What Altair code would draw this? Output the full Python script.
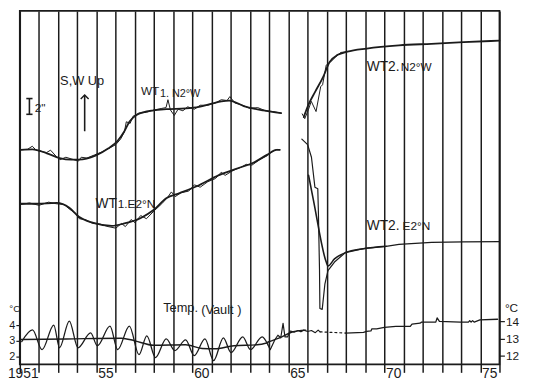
import altair as alt
import pandas as pd

# ---------------- data ----------------
# Temperature (vault), left scale, 1951-1964
temp_l_years = [1951.1, 1951.66, 1952.16, 1952.77, 1953.07, 1953.58, 1954.03, 1954.69, 1955.04, 1955.7,
                1956.1, 1956.71, 1957.21, 1957.62, 1958.07, 1958.63, 1959.08, 1959.64, 1960.09, 1960.65,
                1961.1, 1961.61, 1962.01, 1962.62, 1963.02, 1963.63, 1963.93]
temp_l_vals = [2.95, 3.69, 2.44, 4.0, 2.56, 4.25, 2.56, 3.5, 2.69, 3.94,
               2.44, 3.94, 2.12, 3.31, 1.94, 3.12, 2.38, 3.06, 2.06, 3.12,
               1.75, 3.19, 2.25, 3.25, 2.44, 3.25, 2.75]
temp_l_smooth_years = [1951.05, 1953.42, 1956.3, 1957.0, 1957.97, 1959.64, 1960.5, 1961.15, 1962.16, 1963.37, 1963.93]
temp_l_smooth_vals = [3.08, 3.12, 3.17, 3.0, 2.72, 2.75, 2.52, 2.5, 2.69, 2.75, 2.88]

# Temperature (vault), right scale, 1964-1976
temp_r_years_a = [1963.93, 1964.05, 1964.3, 1964.45, 1964.6, 1964.72, 1964.82, 1964.95, 1965.1, 1965.3,
                  1965.5, 1965.65, 1965.8, 1966.0, 1966.2, 1966.4, 1966.55, 1966.65]
temp_r_vals_a = [12.64, 12.35, 12.95, 13.2, 13.05, 13.9, 13.1, 13.1, 13.45, 13.38,
                 13.48, 13.4, 13.5, 13.42, 13.48, 13.35, 13.5, 13.4]
temp_r_gap_years = [1966.65, 1967.98]
temp_r_gap_vals = [13.4, 13.33]
temp_r_years_b = [1967.98, 1968.91, 1969.08, 1969.3, 1969.35, 1969.6, 1970.0, 1970.6, 1971.35, 1971.44,
                  1971.86, 1971.94, 1972.68, 1972.75, 1972.87, 1973.96, 1974.38, 1974.45, 1974.52, 1974.6,
                  1974.68, 1974.75, 1974.98, 1975.9]
temp_r_vals_b = [13.33, 13.37, 13.43, 13.45, 13.58, 13.58, 13.66, 13.72, 13.72, 13.86,
                 13.91, 13.97, 13.97, 14.22, 14.01, 13.97, 13.97, 14.06, 13.97, 14.06,
                 13.97, 14.0, 14.1, 14.14]
temp_r_smooth_years = [1963.93, 1964.54, 1965.19, 1965.9]
temp_r_smooth_vals = [12.8, 13.04, 13.39, 13.5]

# Tilt (arcsec, arbitrary offsets)
wt1n_smooth_years = [1951.05, 1951.66, 1952.41, 1953.07, 1953.68, 1954.08, 1954.94, 1955.6, 1956.1, 1956.45,
                     1956.71, 1957.11, 1957.97, 1958.63, 1959.64, 1960.34, 1961.0, 1961.51, 1961.91, 1962.67,
                     1963.68, 1964.62]
wt1n_smooth_vals = [27.25, 27.3, 26.8, 26.2, 26.0, 26.0, 26.5, 27.4, 28.4, 29.6,
                    30.8, 31.7, 32.25, 32.4, 32.5, 32.7, 33.1, 33.4, 33.5, 32.8,
                    32.25, 31.9]
wt1n_raw_years = [1951.05, 1951.4, 1951.65, 1951.85, 1952.2, 1952.4, 1952.6, 1952.9, 1953.1, 1953.4,
                  1953.8, 1954.05, 1954.2, 1954.5, 1954.9, 1955.3, 1955.7, 1956.0, 1956.25, 1956.45,
                  1956.55, 1956.75, 1956.9, 1957.2, 1957.6, 1958.0, 1958.4, 1958.62, 1958.72, 1958.85,
                  1959.05, 1959.25, 1959.5, 1959.75, 1960.1, 1960.4, 1960.8, 1961.2, 1961.5, 1961.8,
                  1961.95, 1962.2, 1962.6, 1963.0, 1963.4, 1963.8, 1964.2, 1964.62]
wt1n_raw_vals = [27.25, 27.3, 27.7, 27.2, 27.0, 26.9, 27.2, 26.4, 26.0, 26.3,
                 26.0, 25.8, 26.3, 26.2, 26.6, 27.0, 27.5, 27.9, 28.6, 29.5,
                 30.8, 30.6, 31.5, 31.9, 32.0, 32.3, 32.5, 32.6, 33.6, 32.3,
                 31.6, 32.4, 32.2, 32.7, 32.4, 32.9, 32.9, 33.2, 33.6, 33.5,
                 34.0, 33.2, 32.9, 32.5, 32.6, 32.2, 32.1, 31.9]

wt1e_smooth_years = [1951.05, 1951.91, 1952.92, 1953.58, 1954.08, 1954.79, 1955.8, 1956.45, 1957.31, 1957.97,
                     1958.63, 1959.33, 1960.34, 1961.35, 1962.36, 1963.17, 1963.88, 1964.38, 1964.55]
wt1e_smooth_vals = [20.4, 20.4, 20.5, 19.9, 18.75, 18.0, 17.6, 17.9, 18.6, 19.6,
                    21.1, 21.75, 22.75, 24.0, 24.9, 25.6, 26.6, 27.25, 27.25]
wt1e_raw_years = [1951.05, 1951.5, 1952.0, 1952.5, 1952.9, 1953.3, 1953.6, 1953.9, 1954.1, 1954.4,
                  1954.8, 1955.2, 1955.6, 1956.0, 1956.3, 1956.5, 1956.8, 1957.0, 1957.3, 1957.6,
                  1958.0, 1958.4, 1958.7, 1958.9, 1959.1, 1959.4, 1959.8, 1960.1, 1960.4, 1960.8,
                  1961.2, 1961.5, 1961.7, 1962.1, 1962.5, 1962.8, 1963.1, 1963.5, 1963.9, 1964.2,
                  1964.4, 1964.55]
wt1e_raw_vals = [20.3, 20.5, 20.2, 20.6, 20.4, 20.3, 19.7, 19.2, 18.5, 18.4,
                 17.9, 17.8, 17.5, 17.3, 17.9, 17.5, 18.4, 18.0, 18.9, 18.5,
                 19.5, 20.4, 21.2, 21.9, 21.3, 21.8, 22.0, 22.8, 22.5, 23.2,
                 23.6, 24.4, 24.0, 24.6, 25.0, 25.4, 25.3, 26.0, 26.5, 27.1,
                 27.3, 27.25]

wt2n_smooth_years = [1965.8, 1966.05, 1966.39, 1966.81, 1967.15, 1967.57, 1968.07, 1969.08, 1970.76, 1972.45, 1974.13, 1976.0]
wt2n_smooth_vals = [31.4, 33.0, 34.6, 36.5, 38.4, 39.3, 39.7, 40.1, 40.5, 40.7, 40.9, 41.1]
wt2n_raw_years = [1965.72, 1965.85, 1966.05, 1966.19, 1966.44, 1966.68, 1966.78, 1966.97, 1967.2, 1967.45, 1967.73, 1968.07]
wt2n_raw_vals = [31.8, 31.2, 32.4, 33.4, 32.1, 35.25, 35.5, 38.0, 38.4, 39.0, 39.6, 39.7]

wt2e_raw_years = [1965.70, 1966.0, 1966.2, 1966.38, 1966.53, 1966.56, 1966.62, 1966.64, 1966.76, 1966.9,
                  1967.06, 1967.4, 1967.97, 1968.91, 1970.09, 1970.76, 1972.46, 1974.13, 1976.0]
wt2e_raw_vals = [28.6, 27.9, 26.3, 22.5, 22.3, 19.5, 12.0, 7.1, 7.0, 10.2,
                 11.9, 13.0, 14.2, 14.7, 15.0, 15.25, 15.5, 15.55, 15.6]
wt2e_smooth_years = [1966.05, 1966.3, 1966.97, 1967.06, 1967.4, 1967.98, 1968.91, 1970.09]
wt2e_smooth_vals = [24.0, 20.9, 13.0, 12.5, 13.4, 14.2, 14.7, 15.0]

# Annotations (positions in year / tilt units)
label_text = ["S,W Up", '2"', "WT", "1. N2°W", "WT", "1.E2°N", "WT2.", "N2°W", "WT2.", "E2°N", "Temp.", "(Vault )"]
label_year = [1953.1, 1951.78, 1957.31, 1958.3, 1954.94, 1956.1, 1969.08, 1970.85, 1969.08, 1970.95, 1958.47, 1960.45]
label_v = [35.5, 32.1, 34.25, 34.0, 19.875, 19.875, 37.25, 37.25, 17.125, 17.125, 6.625, 6.4]
label_size = [13, 12, 12, 11, 14, 12, 14, 12, 14, 12, 13, 13]

scalebar_year = [1951.5]
scalebar_lo = [31.75]
scalebar_hi = [33.75]
arrow_year = [1954.38]
arrow_lo = [29.6]
arrow_hi = [34.2]

# ---------------- chart ----------------
INK = "#1b1b1b"
FONT = "Liberation Sans"

xscale = alt.Scale(domain=[1951, 1976], nice=False, zero=False)
xaxis = alt.Axis(
    values=list(range(1951, 1977)), grid=True, gridColor=INK, gridWidth=1.5, gridOpacity=1,
    ticks=True, tickSize=8, tickColor=INK, tickWidth=1.5, domain=False, title=None,
    labelExpr="datum.value == 1951 ? '1951' : (datum.value % 5 == 0 ? slice(toString(datum.value), 2) : '')",
    labelOffset={"condition": {"test": "datum.value == 1951", "value": 3}, "value": 9},
    labelPadding=-6, labelFontSize=14, labelFont=FONT, labelColor=INK,
    labelFlush=False, labelOverlap=False,
)


def X(field="year"):
    return alt.X(f"{field}:Q", scale=xscale, axis=xaxis)


tilt_scale = alt.Scale(domain=[0, 44.875], nice=False, zero=False)


def YT(field="v"):
    return alt.Y(f"{field}:Q", scale=tilt_scale, axis=None)


tl_scale = alt.Scale(domain=[1.5, 23.94], nice=False, zero=False)
tl_axis = alt.Axis(orient="left", values=[2, 3, 4], tickSize=4, tickColor=INK, tickWidth=1.2,
                   labelPadding=1, labelFontSize=11, labelFont=FONT, labelColor=INK,
                   domain=False, grid=False, title="°C", titleAngle=0, titleX=0, titleY=305,
                   titleAlign="right", titleBaseline="alphabetic", titleFontSize=10,
                   titleFontWeight="normal", titleFont=FONT, titleColor=INK)
tr_scale = alt.Scale(domain=[11.478, 32.29], nice=False, zero=False)
tr_axis = alt.Axis(orient="right", values=[12, 13, 14], tickSize=5, tickColor=INK, tickWidth=1.2,
                   labelPadding=1, labelFontSize=12, labelFont=FONT, labelColor=INK,
                   domain=False, grid=False, title="°C", titleAngle=0, titleX=5, titleY=305,
                   titleAlign="left", titleBaseline="alphabetic", titleFontSize=12,
                   titleFontWeight="normal", titleFont=FONT, titleColor=INK)


def frame(years, vals, name="v"):
    return pd.DataFrame({"year": years, name: vals, "i": list(range(len(years)))})


def line(df, yenc, width, interp="linear", dash=None):
    kw = dict(color=INK, strokeWidth=width, interpolate=interp, strokeJoin="round", strokeCap="round")
    if dash:
        kw["strokeDash"] = dash
    return alt.Chart(df).mark_line(**kw).encode(x=X(), y=yenc, order=alt.Order("i:Q"))


YL = alt.Y("t:Q", scale=tl_scale, axis=tl_axis)
YR = alt.Y("t:Q", scale=tr_scale, axis=tr_axis)

temp_left = alt.layer(
    line(frame(temp_l_years, temp_l_vals, "t"), YL, 1.3, "monotone"),
    line(frame(temp_l_smooth_years, temp_l_smooth_vals, "t"), YL, 1.5, "monotone"),
)
temp_right = alt.layer(
    line(frame(temp_r_years_a, temp_r_vals_a, "t"), YR, 1.2),
    line(frame(temp_r_smooth_years, temp_r_smooth_vals, "t"), YR, 1.4, "monotone"),
    line(frame(temp_r_gap_years, temp_r_gap_vals, "t"), YR, 1.2, dash=[2, 3]),
    line(frame(temp_r_years_b, temp_r_vals_b, "t"), YR, 1.3),
)

labels = pd.DataFrame({"year": label_year, "v": label_v, "txt": label_text, "fs": label_size})
text_layer = alt.Chart(labels).mark_text(align="left", baseline="alphabetic", font=FONT, color=INK).encode(
    x=X(), y=YT(), text="txt:N", size=alt.Size("fs:Q", scale=None, legend=None)
)

sb = pd.DataFrame({"year": scalebar_year, "v": scalebar_lo, "v2": scalebar_hi})
sb_rule = alt.Chart(sb).mark_rule(color=INK, strokeWidth=1.6).encode(x=X(), y=YT(), y2="v2:Q")
sb_ends = pd.DataFrame({"year": scalebar_year * 2, "v": scalebar_lo + scalebar_hi})
sb_serif = alt.Chart(sb_ends).mark_point(shape="stroke", size=40, color=INK, strokeWidth=1.6, opacity=1).encode(
    x=X(), y=YT()
)
ar = pd.DataFrame({"year": arrow_year, "v": arrow_lo, "v2": arrow_hi})
ar_rule = alt.Chart(ar).mark_rule(color=INK, strokeWidth=1.6).encode(x=X(), y=YT(), y2="v2:Q")
ar_head_df = pd.DataFrame({"year": arrow_year, "v": arrow_hi})
ar_head = alt.Chart(ar_head_df).mark_point(
    shape="M-1,1L0,0L1,1", size=64, filled=False, color=INK, strokeWidth=1.5, opacity=1
).encode(x=X(), y=YT())

tilt = alt.layer(
    line(frame(wt1n_raw_years, wt1n_raw_vals), YT(), 1.0),
    line(frame(wt1n_smooth_years, wt1n_smooth_vals), YT(), 1.8, "monotone"),
    line(frame(wt1e_raw_years, wt1e_raw_vals), YT(), 1.0),
    line(frame(wt1e_smooth_years, wt1e_smooth_vals), YT(), 1.8, "monotone"),
    line(frame(wt2n_raw_years, wt2n_raw_vals), YT(), 1.0),
    line(frame(wt2n_smooth_years, wt2n_smooth_vals), YT(), 1.8, "monotone"),
    line(frame(wt2e_raw_years, wt2e_raw_vals), YT(), 1.2),
    line(frame(wt2e_smooth_years, wt2e_smooth_vals), YT(), 1.6, "monotone"),
    text_layer, sb_rule, sb_serif, ar_rule, ar_head,
)

chart = (
    alt.layer(temp_left, temp_right, tilt)
    .resolve_scale(y="independent")
    .properties(
        width=487, height=359,
        autosize=alt.AutoSizeParams(type="none"),
        padding={"left": 12, "top": 0, "right": 32, "bottom": 25},
        background="white",
    )
    .configure_view(stroke=INK, strokeWidth=1.8)
)

chart.save("out.html", embed_options={"renderer": "svg", "actions": False})
